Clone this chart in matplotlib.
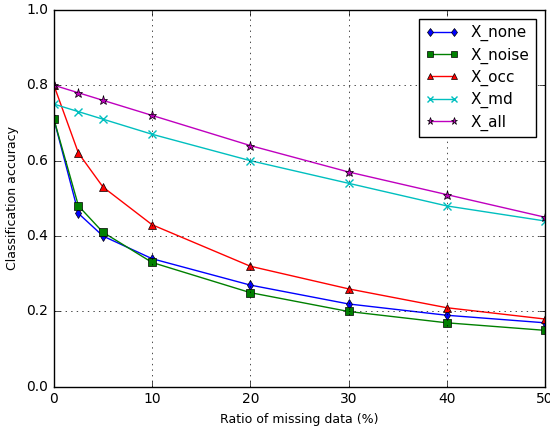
import matplotlib
matplotlib.use("Agg")
import matplotlib.pyplot as plt

plt.style.use("classic")

ratios = [0, 2.5, 5, 10, 20, 30, 40, 50]
x_none = [0.71, 0.46, 0.40, 0.34, 0.27, 0.22, 0.19, 0.17]
x_noise = [0.71, 0.48, 0.41, 0.33, 0.25, 0.20, 0.17, 0.15]
x_occ = [0.80, 0.62, 0.53, 0.43, 0.32, 0.26, 0.21, 0.18]
x_md = [0.75, 0.73, 0.71, 0.67, 0.60, 0.54, 0.48, 0.44]
x_all = [0.80, 0.78, 0.76, 0.72, 0.64, 0.57, 0.51, 0.45]

fig = plt.figure(figsize=(5.5, 4.28), dpi=100, facecolor="white")
ax = fig.add_axes([0.098, 0.096, 0.893, 0.881])

ms = 5.5
ax.plot(ratios, x_none, "b-d", mec="k", mew=0.5, ms=ms, label="X_none")
ax.plot(ratios, x_noise, "g-s", mec="k", mew=0.5, ms=ms, label="X_noise")
ax.plot(ratios, x_occ, "r-^", mec="k", mew=0.5, ms=ms, label="X_occ")
ax.plot(ratios, x_md, "c-x", mec="c", mew=1, ms=ms, label="X_md")
ax.plot(ratios, x_all, "m-*", mec="k", mew=0.5, ms=ms + 1, label="X_all")

ax.set_xlim(0, 50)
ax.set_ylim(0, 1.0)
ax.set_xticks([0, 10, 20, 30, 40, 50])
ax.set_yticks([0.0, 0.2, 0.4, 0.6, 0.8, 1.0])
ax.tick_params(labelsize=10)
ax.grid(True)
ax.set_xlabel("Ratio of missing data (%)", fontsize=9)
ax.set_ylabel("Classification accuracy", fontsize=9)
ax.legend(loc="upper right", fontsize=11, numpoints=2, handlelength=2.2,
          labelspacing=0.4, borderaxespad=0.6, markerscale=0.8)

fig.savefig("out.png", dpi=100, facecolor="white")
